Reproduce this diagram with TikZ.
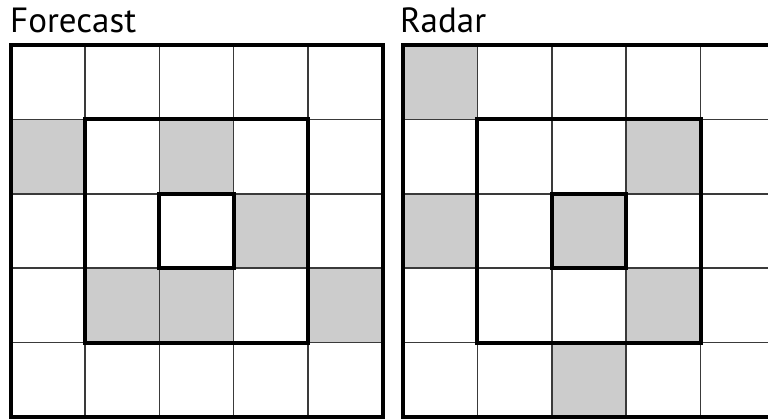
\documentclass[tikz,border=0pt]{standalone}
\usepackage{fontspec}
\setmainfont{PT Sans}
\usepackage{xcolor}
\definecolor{cellgray}{HTML}{CCCCCC}
\definecolor{linegray}{HTML}{3A3A3A}
\tikzset{
  hit/.style={fill=cellgray},
  gridln/.style={draw=linegray,line width=1.5pt},
  frame/.style={draw=black,line width=4pt},
  ttl/.style={font=\fontsize{35}{40}\selectfont,anchor=base west,
              inner sep=0pt},
}

\begin{document}
\begin{tikzpicture}[x=1pt,y=-1pt]
  \clip (0,0) rectangle (768,419);
  \fill[white] (0,0) rectangle (768,419);

  % Forecast panel
  \node[ttl] (fcst) at (10,33) {Forecast};
  \begin{scope}[shift={(10.5,45)}]
    \foreach \r/\c in {1/0,1/2,2/3,3/1,3/2,3/4}
      \fill[hit] (\c*74.4,\r*74.4) rectangle ++(74.4,74.4);
    \foreach \i in {1,...,4} {
      \draw[gridln] (\i*74.4,0) -- (\i*74.4,372);
      \draw[gridln] (0,\i*74.4) -- (372,\i*74.4);
    }
    \draw[frame] (0,0) rectangle (372,372);
    \draw[frame] (74.4,74.4) rectangle (297.6,297.6);
    \draw[frame] (148.8,148.8) rectangle (223.2,223.2);
  \end{scope}

  % Radar panel
  \node[ttl] (rdr) at (400,33) {Radar};
  \begin{scope}[shift={(403,45)}]
    \foreach \r/\c in {0/0,1/3,2/0,2/2,3/3,4/2}
      \fill[hit] (\c*74.4,\r*74.4) rectangle ++(74.4,74.4);
    \foreach \i in {1,...,4} {
      \draw[gridln] (\i*74.4,0) -- (\i*74.4,372);
      \draw[gridln] (0,\i*74.4) -- (372,\i*74.4);
    }
    \draw[frame] (0,0) rectangle (372,372);
    \draw[frame] (74.4,74.4) rectangle (297.6,297.6);
    \draw[frame] (148.8,148.8) rectangle (223.2,223.2);
  \end{scope}
\end{tikzpicture}
\end{document}
